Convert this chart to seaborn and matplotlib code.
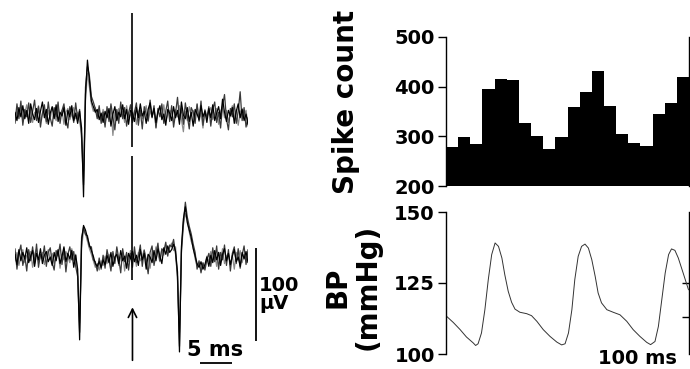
import numpy as np
import pandas as pd
import matplotlib
matplotlib.use('Agg')
import matplotlib.pyplot as plt
import seaborn as sns

# ---- extracellular traces (uV), one sample every 0.3 ms, three sweeps each ----
SAMPLE_MS = 0.3
top_black = [3, -6, 8, -2, 10, -4, 5, -9, 12, 1, -5, 7, -8, 4, 14, -3, 6, -10, 2, 9,
             -4, 11, -7, 3, -1, 8, -11, 5, -2, 10, -6, 2, -9, 4,
             -14, -88, 22, 59, 38, 15, 9, 3, 6, -5, 2,
             -8, 4, -3, 7, -12, 1, 9, -6, 3, -2, 11, -4, 6, -10, 5,
             2, -7, 8, -3, 12, -1, 4, -9, 6, 13, -2, 7, -8, 3, 10, -5, 1, -11, 6, 2,
             -6, 9, -3, 5, -10, 14, 0, -4, 8, -7, 3, -12, 6, 1, -5, 10, -2, 4, -8, 7,
             -3, 11, -6, 2, 9, -4, 17, 3, -7, 5, -1, 8, -9, 4, 12, -3, 6, -6, 1, -10]
top_gray = [-5, 4, -1, 9, -7, 2, 11, -3, 6, -8, 3, -2, 10, -6, 1, 7, -9, 5, -4, 8,
            2, -6, 9, -3, 5, -10, 3, 7, -5, 1, 8, -4, 3, -7,
            -20, -60, 15, 45, 30, 12, 4, 8, -2, 5, -6,
            6, -9, 2, -4, 9, -22, 3, -5, 7, -1, 4, -8, 10, -3, 1,
            -6, 5, -10, 3, 8, -4, 2, 10, -7, 4, -2, 6, -13, 2, 8, -3, 11, -6, 0, 5,
            3, -8, 6, -2, 10, -5, -18, 4, -6, 9, -1, 5, -3, 11, -7, 2, -14, 6, -2, 3,
            8, -5, 1, 7, -10, 4, 9, -3, 5, -8, 2, 10, -4, 6, -11, 3, 7, -2, 5, -12]
top_dark = [-9, 12, -4, 15, -11, 6, -2, 13, -8, 4, 16, -6, 9, -13, 2, 11, -7, 14, -3, -12,
            8, -2, 14, -9, 5, 12, -5, -14, 9, 3, -8, 13, -4, 6,
            -25, -75, 30, 52, 42, 20, 14, 7, -4, 10, -9,
            3, -13, 9, -7, 12, -2, -16, 6, -9, 14, -4, 8, -12, 2, 11,
            -8, 3, 13, -11, 5, -15, 9, 1, -6, 16, -3, 10, -14, 7, -2, 12, -9, 4, 15, -7,
            10, -13, 2, 19, -5, 7, -10, 13, -1, -15, 8, 3, -9, 12, -6, 15, -11, 5, -3, 9,
            -12, 6, 14, -8, 3, -14, 10, 22, -4, -16, 7, -2, 12, -9, 4, 25, -6, 8, -13, -3]
bot_black = [4, -7, 9, -3, 6, -1, 11, -5, 2, 8, -9, 5, -2, 10, -6, 3, 7, -4, 1, -8,
             6, -3, 9, -6, 2, 12, -4, 5, -1, 8, -10, 3, -12,
             -88, 18, 35, 30, 22, 14, 8, 2, -6, -9, -4, -10, -2,
             -7, 3, -5, 6, -9, 1, 4, -6, 8, -3, 2, -11, 5, -1,
             7, -4, 3, -8, 9, -2, 5, -12, 4, 1, -5, 8, -3, 10, 2, -6, 11, 4, 13, 6,
             9, 15, 7, -15,
             -101, 12, 42, 55, 38, 30, 22, 10, 2, -6, -10, -4, -12, -7, 1, -9,
             3, -5, 8, -2, 6, -8, 4, 10, -3, 5, -7, 2, 9, -4, 1, -9, 6, -1, 7, -5]
bot_gray = [-3, 6, -8, 2, 9, -5, 3, -1, 7, -10, 4, 10, -4, 1, 6, -7, 3, 9, -2, 5,
            -6, 2, 8, -11, 4, -2, 7, 1, -5, 10, -3, 4, -18,
            -70, 10, 30, 26, 18, 10, 4, -3, -10, -6, -13, -3, -8,
            2, -6, 4, -10, 5, -3, 7, -8, 1, 6, -14, 3, -4, 8,
            -2, 5, -9, 6, -3, 2, 9, -6, 3, -11, 7, -1, 12, 4, -4, 9, 3, 14, 8, 11,
            16, 8, 12, -25,
            -80, 5, 35, 48, 40, 28, 18, 12, -1, -8, -5, -14, -6, -10, 2, -4,
            7, -2, 4, -9, 6, -3, 10, -6, 2, 5, -8, 3, -12, 6, -2, 8, -5, 4, -1, 3]
bot_dark = [10, -12, 5, 14, -8, 2, -14, 9, -3, 12, -6, 15, -10, 4, -1, 13, -9, 6, 11, -5,
            -13, 8, 2, 15, -7, 10, -15, 4, 12, -2, 7, -9, -20,
            -80, 22, 33, 25, 24, 12, 12, -2, -4, -14, 0, -12, 3,
            -11, 9, -2, -14, 7, -6, 12, -1, -16, 10, -4, 6, -13, 5,
            -10, 12, -5, 2, 14, -9, 8, -2, -17, 6, 13, -8, 4, 16, -3, 10, 7, 17, 2, 14,
            12, 20, 4, -20,
            -95, 8, 38, 60, 44, 34, 26, 15, 6, -12, -3, -16, -5, -13, -2, 5,
            -9, 11, -4, 13, -12, 6, -2, 14, -8, 9, -14, 5, 12, -6, 10, -11, 3, 13, -7, 9]

stim_ms = 18.0
top_artifact_uv = (-34, 110)
bot_artifact_uv = (-24, 110)
arrow_uv = (-113, -50)

# scale bars
vbar_ms = 36.9
vbar_uv = (-89, 11)
hbar_ms = (28.3, 33.3)
hbar_uv = -113

# ---- spike count histogram, 25 ms bins ----
bin_ms = 25
spike_counts = [279, 298, 284, 395, 416, 414, 327, 301, 275, 298,
                360, 389, 432, 362, 304, 287, 281, 345, 367, 420]

# ---- blood pressure ----
bp_time_ms = [1, 15, 29, 42, 56, 61, 66, 73, 80, 87, 94, 101, 108, 115, 121,
              128, 135, 142, 152, 166, 176, 187, 200, 214, 228, 238, 245, 252,
              259, 265, 272, 279, 286, 293, 300, 307, 313, 320, 331, 344, 358,
              372, 385, 399, 413, 421, 430, 437, 444, 451, 458, 464, 471, 478,
              488, 499]
bp_mmhg = [113.3, 111.1, 108.6, 106.0, 103.9, 103.0, 103.6, 107.4, 115.6, 126.2,
           135.0, 139.1, 137.9, 133.8, 127.9, 122.1, 118.2, 115.8, 114.7, 114.2,
           113.5, 111.5, 108.6, 106.2, 104.2, 103.2, 103.6, 107.4, 115.6, 126.2,
           134.4, 137.9, 138.7, 137.3, 133.2, 127.3, 121.5, 118.0, 115.6, 114.7,
           113.8, 111.5, 108.6, 106.2, 104.1, 103.3, 104.4, 109.7, 119.1, 128.5,
           135.0, 137.0, 136.5, 133.8, 128.5, 122.6]

sns.set_style('ticks')
plt.rcParams['font.family'] = ['DejaVu Sans']
plt.rcParams['font.weight'] = 'bold'
for key in ('text.color', 'axes.labelcolor', 'xtick.color', 'ytick.color', 'axes.edgecolor'):
    plt.rcParams[key] = 'black'

W, H = 690, 369
fig = plt.figure(figsize=(W / 100, H / 100), dpi=100)


def px_axes(x0, y0, x1, y1):
    # axes from pixel box (y measured from top)
    return fig.add_axes([x0 / W, 1 - y1 / H, (x1 - x0) / W, (y1 - y0) / H])


UV_PER_PX = 100 / 93
t = np.arange(len(top_black)) * SAMPLE_MS
sweep_styles = [('#8a8a8a', 0.9), ('#3a3a3a', 0.9), ('#000000', 0.9)]

# top trace
ax1 = px_axes(15, 5, 248, 205)
ax1.set_xlim(t[0], t[-1])
ax1.set_ylim(-(205 - 115) * UV_PER_PX, (115 - 5) * UV_PER_PX)
for sweep, (col, lw) in zip([top_gray, top_dark, top_black], sweep_styles):
    sns.lineplot(x=t, y=sweep, ax=ax1, color=col, lw=lw, sort=False)
ax1.vlines(stim_ms, *top_artifact_uv, color='black', lw=1.2)
ax1.axis('off')

# bottom trace
ax2 = px_axes(15, 150, 248, 369)
ax2.set_xlim(t[0], t[-1])
ax2.set_ylim(-(369 - 258) * UV_PER_PX, (258 - 150) * UV_PER_PX)
for sweep, (col, lw) in zip([bot_gray, bot_dark, bot_black], sweep_styles):
    sns.lineplot(x=t, y=sweep, ax=ax2, color=col, lw=lw, sort=False)
ax2.vlines(stim_ms, *bot_artifact_uv, color='black', lw=1.2)
ax2.annotate('', xy=(stim_ms, arrow_uv[1]), xytext=(stim_ms, arrow_uv[0]),
             arrowprops=dict(arrowstyle='->,head_length=0.6,head_width=0.3',
                             lw=1.2, color='black'),
             annotation_clip=False)
ax2.vlines(vbar_ms, *vbar_uv, color='black', lw=1.3, clip_on=False)
ax2.hlines(hbar_uv, *hbar_ms, color='black', lw=1.3, clip_on=False)
ax2.text(vbar_ms + 0.5, np.mean(vbar_uv), '100\nµV', fontsize=14,
         fontweight='bold', ha='left', va='center', linespacing=0.95)
ax2.text(np.mean(hbar_ms) - 0.1, hbar_uv + 14, '5 ms', fontsize=15,
         fontweight='bold', ha='center', va='center')
ax2.axis('off')

# spike count histogram
ax3 = px_axes(446, 37, 689, 186)
bin_left = np.arange(len(spike_counts)) * bin_ms
sns.histplot(x=bin_left + bin_ms / 2, weights=spike_counts, bins=len(spike_counts),
             binrange=(0, bin_ms * len(spike_counts)), ax=ax3, color='black',
             edgecolor='black', linewidth=0, alpha=1)
ax3.set_xlim(0, bin_ms * len(spike_counts))
ax3.set_ylim(200, 500)
ax3.set_yticks([200, 300, 400, 500])
ax3.set_xticks([])
ax3.set_xlabel('')
ax3.set_ylabel('Spike count', fontsize=20, fontweight='bold')
ax3.yaxis.set_label_coords((360 - 446) / 243, (186 - 102) / 149)
sec3 = ax3.secondary_yaxis('right')
sec3.set_yticks([300, 400])
sec3.set_yticklabels([])
sec3.tick_params(direction='in', length=5, width=1)

# blood pressure
ax4 = px_axes(446, 212, 689, 354)
sns.lineplot(x=bp_time_ms, y=bp_mmhg, ax=ax4, color='#333333', lw=0.7, sort=False)
ax4.set_xlim(0, bin_ms * len(spike_counts))
ax4.set_ylim(100, 150)
ax4.set_yticks([100, 125, 150])
ax4.set_xticks([])
ax4.set_ylabel('BP\n(mmHg)', fontsize=20, fontweight='bold', linespacing=1.1)
ax4.yaxis.set_label_coords((382 - 446) / 243, (354 - 287) / 142)
sec4 = ax4.secondary_yaxis('right')
sec4.set_yticks([113, 125])
sec4.set_yticklabels([])
sec4.tick_params(direction='in', length=5, width=1)
fig.text(637 / W, 1 - 359 / H, '100 ms', fontsize=14, fontweight='bold',
         ha='center', va='center')

for ax in (ax3, ax4):
    for side in ('top', 'bottom'):
        ax.spines[side].set_visible(False)
    ax.spines['left'].set_linewidth(1)
    ax.spines['right'].set_visible(False)
    ax.tick_params(axis='y', length=6, width=1, pad=2, labelsize=14)
    for lab in ax.get_yticklabels():
        lab.set_fontweight('bold')
for sec in (sec3, sec4):
    sec.spines['right'].set_linewidth(1)

fig.savefig('out.png', dpi=100)
